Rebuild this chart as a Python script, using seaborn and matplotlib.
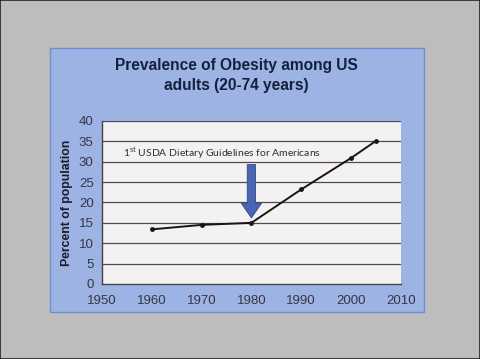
import matplotlib.pyplot as plt
import matplotlib.patches as patches
import pandas as pd
import seaborn as sns

# Obesity prevalence, US adults 20-74
years = [1960, 1970, 1980, 1990, 2000, 2005]
percent = [13.4, 14.5, 15.0, 23.2, 30.9, 35.1]

title_text = 'Prevalence of Obesity among US\nadults (20-74 years)'
note_text = r'1$^{\mathrm{st}}$ USDA Dietary Guidelines for Americans'
arrow_year = 1980

df = pd.DataFrame({'Year': years, 'Percent': percent})

sns.set_style('white')
plt.rcParams['font.family'] = ['Liberation Sans', 'DejaVu Sans']
plt.rcParams['mathtext.fontset'] = 'custom'
plt.rcParams['mathtext.rm'] = 'Lato'

fig = plt.figure(figsize=(4.8, 3.59), dpi=100)
fig.patch.set_facecolor('#bdbdbd')

# outer frame and the blue slide panel
fig.patches.append(patches.Rectangle((0, 0), 1, 1, transform=fig.transFigure,
                                     fill=False, ec='#222222', lw=1.2, zorder=-2))
fig.patches.append(patches.Rectangle((0.104, 0.131), 0.779, 0.735,
                                     transform=fig.transFigure,
                                     fc='#9db3e3', ec='#6f8fd3', lw=1, zorder=-1))

fig.text(0.492, 0.79, title_text, ha='center', va='center',
         fontsize=11.2, fontweight='bold', color='#14213d', linespacing=1.4)

ax = fig.add_axes([0.2125, 0.209, 0.6225, 0.454])
ax.set_facecolor('#f2f2f2')

sns.lineplot(data=df, x='Year', y='Percent', ax=ax, color='#1c1414',
             linewidth=1.4, marker='o', markersize=3.5, markeredgewidth=0)

ax.set_xlim(1950, 2010)
ax.set_ylim(0, 40)
ax.set_xticks(range(1950, 2011, 10))
ax.set_yticks(range(0, 41, 5))
for v in range(5, 41, 5):
    ax.axhline(v, color='#574650', lw=0.9, zorder=0)

for s in ['top', 'right']:
    ax.spines[s].set_visible(False)
for s in ['left', 'bottom']:
    ax.spines[s].set_color('#444444')
    ax.spines[s].set_linewidth(1)
ax.tick_params(axis='both', direction='inout', length=4, width=0.8,
               color='#444444', labelsize=9.5, labelcolor='#363646', pad=4)
ax.tick_params(axis='x', pad=6)

ax.set_xlabel('')
ax.set_ylabel('Percent of population', fontsize=8.8, fontweight='bold',
              color='#1a1a2a', labelpad=4)

ax.text(1954.2, 32.0, note_text, fontsize=7.5, color='#2e2e2e',
        family=['Lato', 'DejaVu Sans'], va='center')

ax.annotate('', xy=(arrow_year, 16.2), xytext=(arrow_year, 29.3),
            arrowprops=dict(arrowstyle='simple,head_length=1.05,head_width=1.45,tail_width=0.6',
                            fc='#4a63b3', ec='#34488a', lw=0.6,
                            shrinkA=0, shrinkB=0, mutation_scale=10))

fig.savefig('out.png', dpi=100, facecolor=fig.get_facecolor())
